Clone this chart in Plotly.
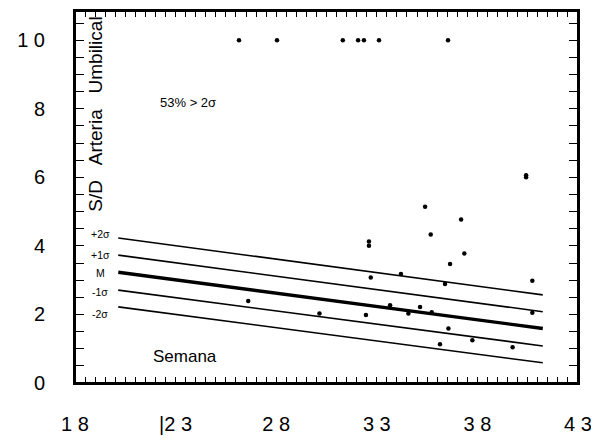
import plotly.graph_objects as go

# regression lines (week endpoints and S/D values)
line_weeks = [20.15, 41.25]
plus2 = [4.23, 2.57]
plus1 = [3.73, 2.08]
mean = [3.23, 1.59]
minus1 = [2.71, 1.08]
minus2 = [2.22, 0.59]

# observed points
pt_weeks = [26.15, 28.04, 31.31, 32.07, 32.36, 33.11, 36.54,
            35.40, 35.68, 32.61, 32.61, 36.64, 32.70, 34.20, 36.39,
            37.19, 37.35, 40.73, 40.42, 40.42,
            33.66, 35.15, 32.46, 34.57, 35.73, 36.56, 36.14, 30.15, 26.61,
            37.75, 39.75, 40.73]
pt_sd = [10, 10, 10, 10, 10, 10, 10,
         5.14, 4.33, 4.00, 4.13, 3.47, 3.08, 3.18, 2.89,
         4.77, 3.78, 2.98, 6.00, 6.06,
         2.27, 2.22, 1.98, 2.03, 2.06, 1.59, 1.13, 2.03, 2.39,
         1.25, 1.04, 2.05]

# tick marks (every half unit) and tick labels
x_tick_marks = [18 + 0.5 * i for i in range(51)]
x_label_vals = [18, 23, 28, 33, 38, 43]
x_label_text = ["1 8", "|2 3", "2 8", "3 3", "3 8", "4 3"]
y_tick_marks = [0.5 * i for i in range(22)]
y_label_vals = [0, 2, 4, 6, 8, 10]
y_label_text = ["0", "2", "4", "6", "8", "1 0"]

x_range = [18, 43]
y_range = [0, 10.85]

font = "Liberation Sans"
fig = go.Figure()
for ys, w in [(plus2, 1.6), (plus1, 1.6), (mean, 3.4), (minus1, 1.6), (minus2, 1.6)]:
    fig.add_trace(go.Scatter(x=line_weeks, y=ys, mode="lines", xaxis="x3", yaxis="y",
                             line=dict(color="black", width=w), hoverinfo="skip"))
fig.add_trace(go.Scatter(x=pt_weeks, y=pt_sd, mode="markers", xaxis="x2", yaxis="y2",
                         marker=dict(color="black", size=4.5, symbol="circle")))

sig_labels = ["+2σ", "+1σ", "M", "-1σ", "-2σ"]
sig_y = [4.34, 3.73, 3.21, 2.65, 2.01]
for t, yv in zip(sig_labels, sig_y):
    fig.add_annotation(x=19.25, y=yv, xref="x", yref="y", text=t, showarrow=False,
                       font=dict(size=10.5, color="black", family=font))
fig.add_annotation(x=23.6, y=8.19, xref="x", yref="y", text="53% > 2σ", showarrow=False,
                   font=dict(size=13, color="black", family=font))
fig.add_annotation(x=23.47, y=0.76, xref="x", yref="y", text="Semana", showarrow=False,
                   font=dict(size=17, color="black", family=font))
fig.add_annotation(x=19.02, y=7.84, xref="x", yref="y", text="S/D   Arteria   Umbilical",
                   showarrow=False, textangle=-90,
                   font=dict(size=19, color="black", family=font))

# plot frame
fig.add_shape(type="rect", xref="paper", yref="paper", x0=0, x1=1, y0=0, y1=1,
              line=dict(color="black", width=2), layer="above")

fig.update_layout(
    width=591, height=432, showlegend=False,
    margin=dict(l=67, r=21, t=3, b=57),
    plot_bgcolor="white", paper_bgcolor="white",
    xaxis=dict(range=x_range, tickvals=x_tick_marks, showticklabels=False,
               ticks="inside", ticklen=6, tickcolor="black", tickwidth=1,
               showline=True, linecolor="black", linewidth=2, mirror=False,
               showgrid=False, zeroline=False),
    xaxis3=dict(range=x_range, overlaying="x", anchor="y", side="top",
                tickvals=x_tick_marks, showticklabels=False,
                ticks="inside", ticklen=6, tickcolor="black", tickwidth=1,
                showline=True, linecolor="black", linewidth=2,
                showgrid=False, zeroline=False),
    yaxis=dict(range=y_range, tickvals=y_tick_marks, showticklabels=False,
               ticks="inside", ticklen=9, tickcolor="black", tickwidth=1,
               showline=True, linecolor="black", linewidth=2, mirror="ticks",
               showgrid=False, zeroline=False),
    xaxis2=dict(range=x_range, overlaying="x", anchor="y", side="bottom",
                tickvals=x_label_vals, ticktext=x_label_text,
                ticks="outside", ticklen=23, tickcolor="rgba(0,0,0,0)",
                showline=False, showgrid=False, zeroline=False,
                tickfont=dict(size=20, color="black", family=font)),
    yaxis2=dict(range=y_range, overlaying="y", anchor="x", side="left",
                tickvals=y_label_vals, ticktext=y_label_text,
                ticks="outside", ticklen=25, tickcolor="rgba(0,0,0,0)",
                showline=False, showgrid=False, zeroline=False,
                tickfont=dict(size=20, color="black", family=font)),
)
fig.write_html("out.html")
